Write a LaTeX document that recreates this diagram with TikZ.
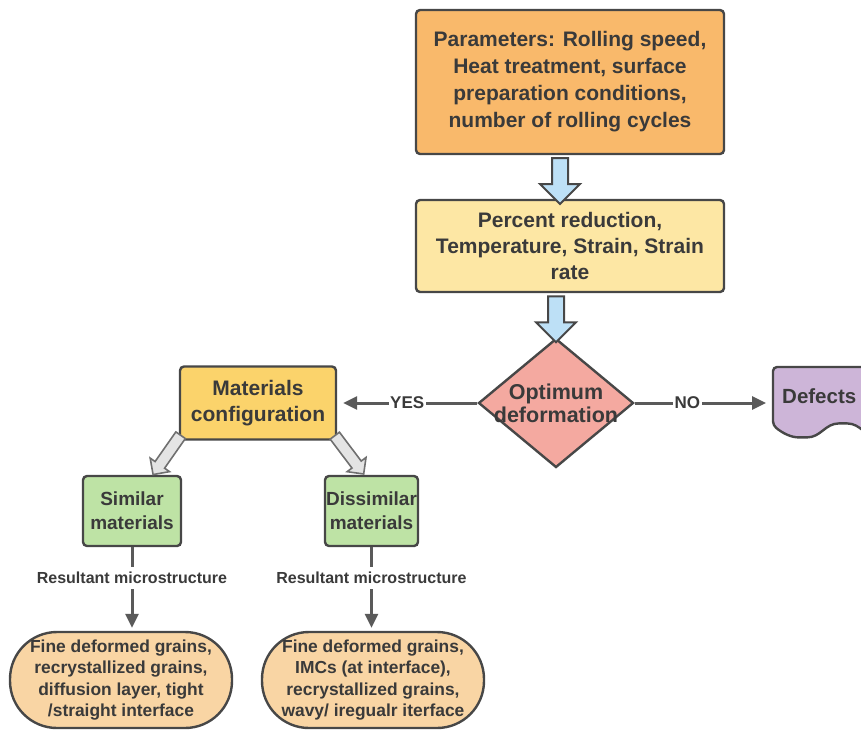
\documentclass[tikz,border=0pt]{standalone}
\usepackage{fontspec}
\setmainfont{Liberation Sans}
\usetikzlibrary{shapes.geometric,shapes.arrows,arrows.meta,calc,backgrounds}
\definecolor{edgegray}{HTML}{474747}
\definecolor{txtgray}{HTML}{3A3A3A}
\definecolor{linegray}{HTML}{5A5A5A}
\definecolor{paramorange}{HTML}{F9B96B}
\definecolor{percentyellow}{HTML}{FDE7A4}
\definecolor{optpink}{HTML}{F4A9A0}
\definecolor{defectpurple}{HTML}{CDB5D8}
\definecolor{configgold}{HTML}{FBD36B}
\definecolor{simgreen}{HTML}{BEE3A5}
\definecolor{resultpeach}{HTML}{F9D5A4}
\definecolor{arrowblue}{HTML}{BDE0F6}
\definecolor{arrowgray}{HTML}{E4E4E4}
\definecolor{arrowedge}{HTML}{707070}

\begin{document}
\begin{tikzpicture}[x=1pt, y=-1pt,
   box/.style={draw=edgegray, line width=2.4pt, rounded corners=4pt, align=center,
     text=txtgray, font=\bfseries, inner sep=0pt},
   decision/.style={diamond, draw=edgegray, fill=optpink, line width=2.4pt,
     minimum width=155pt, minimum height=129pt, inner sep=0pt},
   result/.style={box, rounded corners=47pt, fill=resultpeach, minimum width=222pt,
     minimum height=96pt, font=\bfseries\fontsize{17.4}{21.5}\selectfont},
   bluearrow/.style={single arrow, draw=edgegray, fill=arrowblue, line width=2pt,
     single arrow head extend=12pt, minimum height=46pt,
     inner xsep=0pt, inner ysep=7pt, rotate=-90},
   grayarrow/.style={single arrow, draw=arrowedge, fill=arrowgray, line width=1.6pt,
     single arrow head extend=6pt, minimum height=48pt,
     inner xsep=0pt, inner ysep=5pt},
   link/.style={draw=linegray, line width=3pt, -{Triangle[length=14pt,width=13pt]}},
   tag/.style={fill=white, text=txtgray, inner xsep=1.5pt, inner ysep=1pt,
     font=\bfseries\fontsize{17}{17}\selectfont},
   microtag/.style={tag, inner xsep=0pt, inner ysep=5pt,
     font=\bfseries\fontsize{16}{16}\selectfont}]
  \useasboundingbox (0,0) rectangle (861,734);
  \clip (0,0) rectangle (861,734);

  \node[box, fill=paramorange, minimum width=308pt, minimum height=144pt,
    font=\bfseries\fontsize{21}{27}\selectfont] (params) at (570,82)
    {Parameters: Rolling speed,\\Heat treatment, surface\\preparation conditions,\\number of rolling cycles};
  \node[box, fill=percentyellow, minimum width=308pt, minimum height=92pt,
    font=\bfseries\fontsize{21}{26}\selectfont] (percent) at (570,246)
    {Percent reduction,\\Temperature, Strain, Strain\\rate};
  \node[decision, label={[align=center, text=txtgray,
    font=\bfseries\fontsize{21.5}{23}\selectfont]center:Optimum\\deformation}] (optimum) at (556,403) {};
  \node[box, fill=configgold, minimum width=156pt, minimum height=73pt,
    font=\bfseries\fontsize{21}{26}\selectfont] (config) at (258,403)
    {Materials\\configuration};
  \node[box, fill=simgreen, minimum width=98pt, minimum height=70pt,
    font=\bfseries\fontsize{19}{24}\selectfont] (similar) at (132,511)
    {Similar\\materials};
  \node[box, fill=simgreen, minimum width=93pt, minimum height=70pt,
    font=\bfseries\fontsize{19}{24}\selectfont] (dissimilar) at (371.5,511)
    {Dissimilar\\materials};
  \node[result] (fineL) at (121,680)
    {Fine deformed grains,\\recrystallized grains,\\diffusion layer, tight\\/straight interface};
  \node[result] (fineR) at (373,680)
    {Fine deformed grains,\\IMCs (at interface),\\recrystallized grains,\\wavy/ iregualr iterface};

  \node[anchor=north west, text=txtgray, inner xsep=9pt, inner ysep=0pt,
    minimum height=58pt, font=\bfseries\fontsize{20.5}{20.5}\selectfont] (defects) at (773,367) {Defects};
  \begin{scope}[on background layer]
    \path[draw=edgegray, fill=defectpurple, line width=2.4pt, rounded corners=4pt]
      (defects.south west) .. controls +(10,8) and +(-12,0) .. ++(30,12)
      .. controls +(18,0) and +(-18,0) .. ++(40,-14)
      .. controls +(18,0) and +(-18,0) .. ++(40,14)
      |- (defects.north west) -- cycle;
  \end{scope}

  \node[bluearrow] (flow1) at ($(params.south)!0.5!(percent.north)+(-10,0)$) {};
  \node[bluearrow] (flow2) at ($(percent.south -| optimum.north)!0.5!(optimum.north)$) {};
  \node[grayarrow, rotate=-125] (splitL) at (168.5,452.5) {};
  \node[grayarrow, rotate=-53] (splitR) at (347.5,452.5) {};

  \draw[link, shorten >=6pt] (optimum.west) -- node[tag] {YES} (config.east);
  \draw[link, shorten >=7pt] (optimum.east) -- node[tag, pos=0.38] {NO} (optimum.east -| defects.west);
  \draw[link, shorten >=3pt] (similar.south) -- node[microtag, pos=0.37] {Resultant microstructure}
    (similar.south |- fineL.north);
  \draw[link, shorten >=3pt] (dissimilar.south) -- node[microtag, pos=0.37] {Resultant microstructure}
    (dissimilar.south |- fineR.north);
\end{tikzpicture}
\end{document}
